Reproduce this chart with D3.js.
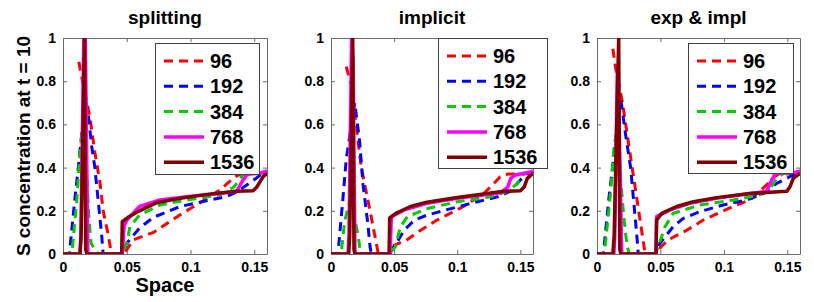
<!DOCTYPE html>
<html>
<head>
<meta charset="utf-8">
<script src="https://cdnjs.cloudflare.com/ajax/libs/d3/7.8.5/d3.min.js"></script>
<style>
  body { margin: 0; background: #fff; }
  text { font-family: "Liberation Sans", Arial, sans-serif; font-weight: bold; fill: #000; }
</style>
</head>
<body>
<script>
// mesh sizes and methods
const methods = ['splitting', 'implicit', 'exp & impl']
const meshes = ['96', '192', '384', '768', '1536']
const xTicks = [0, 0.05, 0.1, 0.15]
const yTicks = [0, 0.2, 0.4, 0.6, 0.8, 1]
const yLabel = 'S concentration at t = 10'
const xLabel = 'Space'

// splitting  [x, S]
const split96 = [[0.0125,0.89],[0.0133,0.86],[0.0212,0.63],[0.025,0.47],[0.029,0.33],[0.0316,0.196],[0.0355,0.088],[0.038,0],[0.047,0],[0.05,0.02],[0.055,0.065],[0.071,0.10],[0.094,0.19],[0.107,0.235],[0.123,0.296],[0.135,0.358],[0.14,0.372],[0.16,0.372]]
const split192 = [[0,0],[0.005,0],[0.0094,0.26],[0.012,0.40],[0.0146,0.55],[0.0175,0.72],[0.0199,0.64],[0.0225,0.50],[0.025,0.40],[0.0277,0.24],[0.0303,0.09],[0.0315,0],[0.046,0],[0.05,0.05],[0.06,0.12],[0.071,0.17],[0.092,0.22],[0.115,0.25],[0.128,0.265],[0.137,0.29],[0.149,0.34],[0.157,0.375],[0.16,0.38]]
const split384 = [[0,0],[0.007,0],[0.0107,0.24],[0.0133,0.47],[0.0155,0.6],[0.0165,0.6],[0.0205,0.15],[0.022,0.05],[0.025,0.02],[0.028,0],[0.046,0],[0.05,0.05],[0.0525,0.127],[0.06,0.18],[0.076,0.227],[0.097,0.25],[0.123,0.273],[0.134,0.31],[0.141,0.365],[0.145,0.372],[0.16,0.375]]
const split768 = [[0,0],[0.0133,0],[0.014,0.08],[0.0163,1.0],[0.0175,1.0],[0.0195,0],[0.0465,0],[0.048,0.13],[0.05,0.157],[0.06,0.22],[0.076,0.25],[0.097,0.265],[0.123,0.28],[0.136,0.29],[0.141,0.34],[0.144,0.365],[0.147,0.372],[0.155,0.375],[0.16,0.385]]
const split1536 = [[0,0],[0.0133,0],[0.0142,0.08],[0.0169,1.0],[0.0178,0.02],[0.0188,0],[0.046,0],[0.0465,0.15],[0.051,0.17],[0.06,0.20],[0.073,0.237],[0.092,0.258],[0.113,0.276],[0.136,0.29],[0.149,0.293],[0.152,0.31],[0.157,0.358],[0.16,0.373]]

// implicit
const impl96 = [[0.0121,0.867],[0.0161,0.78],[0.024,0.40],[0.0306,0.21],[0.0346,0.088],[0.0375,0],[0.047,0],[0.05,0.04],[0.06,0.065],[0.071,0.11],[0.084,0.157],[0.105,0.22],[0.121,0.28],[0.129,0.327],[0.134,0.358],[0.14,0.37],[0.16,0.372]]
const impl192 = [[0,0],[0.0055,0],[0.0095,0.26],[0.0121,0.44],[0.0188,0.70],[0.0227,0.52],[0.0254,0.32],[0.0293,0.134],[0.031,0.03],[0.032,0],[0.046,0],[0.05,0.034],[0.058,0.11],[0.066,0.157],[0.076,0.18],[0.095,0.21],[0.116,0.242],[0.132,0.265],[0.142,0.29],[0.15,0.343],[0.1555,0.373],[0.16,0.38]]
const impl384 = [[0,0],[0.008,0],[0.0108,0.15],[0.014,0.227],[0.016,0.25],[0.0174,0.21],[0.0214,0.088],[0.023,0.02],[0.026,0],[0.046,0],[0.051,0.034],[0.055,0.126],[0.0605,0.173],[0.076,0.21],[0.1,0.242],[0.1265,0.265],[0.14,0.29],[0.1476,0.327],[0.1516,0.366],[0.155,0.375],[0.16,0.38]]
const impl768 = [[0,0],[0.0135,0],[0.0142,0.08],[0.0163,1.0],[0.0175,0.9],[0.019,0],[0.0468,0],[0.0478,0.173],[0.058,0.204],[0.076,0.235],[0.1,0.258],[0.1345,0.284],[0.14,0.31],[0.1424,0.35],[0.146,0.366],[0.158,0.38],[0.16,0.385]]
const impl1536 = [[0,0],[0.014,0],[0.0148,0.08],[0.0172,1.0],[0.0182,0.02],[0.019,0],[0.046,0],[0.0465,0.167],[0.0513,0.188],[0.063,0.22],[0.076,0.24],[0.1,0.262],[0.137,0.29],[0.15,0.293],[0.153,0.31],[0.1555,0.35],[0.16,0.373]]

// exp & impl
const ei96 = [[0.0125,0.95],[0.0147,0.86],[0.020,0.705],[0.0239,0.55],[0.0278,0.397],[0.0318,0.242],[0.0357,0.088],[0.038,0],[0.047,0],[0.05,0.03],[0.056,0.065],[0.0707,0.11],[0.0838,0.157],[0.107,0.22],[0.1206,0.25],[0.128,0.29],[0.135,0.327],[0.14,0.358],[0.143,0.37],[0.16,0.372]]
const ei192 = [[0,0],[0.005,0],[0.0094,0.26],[0.0187,0.72],[0.0226,0.55],[0.0265,0.40],[0.029,0.24],[0.0318,0.057],[0.0325,0],[0.046,0],[0.0496,0.05],[0.06,0.126],[0.068,0.165],[0.081,0.196],[0.0995,0.227],[0.118,0.25],[0.131,0.28],[0.1416,0.327],[0.1495,0.35],[0.157,0.373],[0.16,0.38]]
const ei384 = [[0,0],[0.0058,0],[0.0108,0.29],[0.0134,0.50],[0.015,0.55],[0.0165,0.5],[0.021,0.18],[0.0226,0.09],[0.024,0.03],[0.0255,0],[0.046,0],[0.048,0.03],[0.0536,0.126],[0.06,0.188],[0.081,0.227],[0.1074,0.25],[0.128,0.273],[0.136,0.30],[0.1416,0.35],[0.147,0.373],[0.16,0.378]]
const ei768 = [[0,0],[0.0133,0],[0.014,0.08],[0.016,0.85],[0.0175,0.6],[0.0195,0],[0.0465,0],[0.047,0.173],[0.0575,0.204],[0.073,0.235],[0.094,0.258],[0.1206,0.28],[0.1337,0.29],[0.1377,0.343],[0.14,0.366],[0.142,0.375],[0.155,0.377],[0.16,0.385]]
const ei1536 = [[0,0],[0.0125,0],[0.0135,0.08],[0.0171,1.0],[0.018,0.02],[0.0188,0],[0.0465,0],[0.047,0.157],[0.051,0.188],[0.0628,0.22],[0.076,0.242],[0.0943,0.261],[0.1206,0.28],[0.1495,0.29],[0.152,0.31],[0.1547,0.35],[0.16,0.373]]

const seriesByMethod = [
  [split96, split192, split384, split768, split1536],
  [impl96, impl192, impl384, impl768, impl1536],
  [ei96, ei192, ei384, ei768, ei1536]
]

let width = 814
let height = 302
let plotTop = 38
let plotBottom = 254

const lineColors = ['#ff0000', '#0000ff', '#00cc00', '#ff00ff', '#800000']
const lineDash = ['9,6', '9,6', '9,6', null, null]
const lineWidth = [3, 3, 3, 3.5, 3.5]

// axes placement + legend box for each panel
const panels = [
  {left: 63, right: 267, legend: {x: 155, y: 43, w: 104, h: 131}},
  {left: 331, right: 533, legend: {x: 438, y: 38, w: 109, h: 130}},
  {left: 597, right: 800, legend: {x: 688, y: 43, w: 105, h: 130}}
]

const svg = d3.select('body').append('svg').attr('width', width).attr('height', height)
svg.append('rect').attr('width', width).attr('height', height).attr('fill', '#fff')

const drawPanel = (p, idx) => {
  const x = d3.scaleLinear().domain([0, 0.16]).range([p.left, p.right])
  const y = d3.scaleLinear().domain([0, 1]).range([plotBottom, plotTop])
  const g = svg.append('g')

  g.append('clipPath').attr('id', 'clip' + idx)
    .append('rect').attr('x', p.left).attr('y', plotTop)
    .attr('width', p.right - p.left).attr('height', plotBottom - plotTop)

  // axes with inward ticks on all four sides
  g.append('g').attr('transform', `translate(0,${plotBottom})`)
    .call(d3.axisBottom(x).tickValues(xTicks).tickSizeInner(-4).tickSizeOuter(0).tickPadding(8).tickFormat(d3.format('~g')))
  g.append('g').attr('transform', `translate(0,${plotTop})`)
    .call(d3.axisTop(x).tickValues(xTicks).tickSizeInner(-4).tickSizeOuter(0).tickFormat(''))
  g.append('g').attr('transform', `translate(${p.left},0)`)
    .call(d3.axisLeft(y).tickValues(yTicks).tickSizeInner(-4).tickSizeOuter(0).tickPadding(7).tickFormat(d3.format('~g')))
  g.append('g').attr('transform', `translate(${p.right},0)`)
    .call(d3.axisRight(y).tickValues(yTicks).tickSizeInner(-4).tickSizeOuter(0).tickFormat(''))
  g.selectAll('.domain').attr('stroke', '#6a6a6a')
  g.selectAll('.tick line').attr('stroke', '#6a6a6a')
  g.selectAll('.tick text').style('font-size', '14px').style('font-weight', 'bold').attr('fill', '#000')

  const line = d3.line().x(d => x(d[0])).y(d => y(d[1]))
  const plot = g.append('g').attr('clip-path', `url(#clip${idx})`)
  seriesByMethod[idx].forEach((s, i) => {
    plot.append('path')
      .attr('d', line(s))
      .attr('fill', 'none')
      .attr('stroke', lineColors[i])
      .attr('stroke-width', lineWidth[i])
      .attr('stroke-dasharray', lineDash[i])
      .attr('stroke-linejoin', 'round')
  })

  g.append('text')
    .attr('x', (p.left + p.right) / 2).attr('y', 24)
    .attr('text-anchor', 'middle').style('font-size', '19px')
    .text(methods[idx])

  // legend
  const lg = g.append('g').attr('transform', `translate(${p.legend.x},${p.legend.y})`)
  lg.append('rect').attr('x', 0.5).attr('y', 0.5)
    .attr('width', p.legend.w).attr('height', p.legend.h)
    .attr('fill', '#fff').attr('stroke', '#404040').attr('stroke-width', 1)
  meshes.forEach((m, i) => {
    const ry = 18 + i * 25.3
    lg.append('line').attr('x1', 9).attr('x2', 49).attr('y1', ry).attr('y2', ry)
      .attr('stroke', lineColors[i]).attr('stroke-width', lineWidth[i])
      .attr('stroke-dasharray', lineDash[i])
    lg.append('text').attr('x', 55).attr('y', ry).attr('dy', '0.35em')
      .style('font-size', '20px').text(m)
  })
}

panels.forEach(drawPanel)

svg.append('text')
  .attr('transform', 'translate(30,146) rotate(-90)')
  .attr('text-anchor', 'middle').style('font-size', '19px')
  .text(yLabel)

svg.append('text')
  .attr('x', (panels[0].left + panels[0].right) / 2).attr('y', 292)
  .attr('text-anchor', 'middle').style('font-size', '20px')
  .text(xLabel)
</script>
</body>
</html>
